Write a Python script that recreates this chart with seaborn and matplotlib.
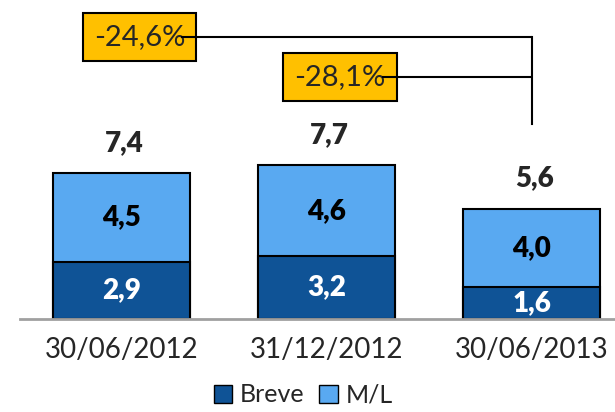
import matplotlib
matplotlib.use("Agg")
import matplotlib.pyplot as plt
import seaborn as sns
import pandas as pd
from matplotlib.patches import Patch
from matplotlib import font_manager

# values
dates = ["30/06/2012", "31/12/2012", "30/06/2013"]
breve = [2.9, 3.2, 1.6]
ml = [4.5, 4.6, 4.0]
totals = [7.4, 7.7, 5.6]
changes = ["-24,6%", "-28,1%"]

dark_blue = "#0F5396"
light_blue = "#59A9F1"
box_yellow = "#FFC000"


def fmt(v):
    return f"{v:.1f}".replace(".", ",")


sns.set_theme(style="white")
plt.rcParams["font.family"] = ["Lato", "DejaVu Sans"]
print(sorted({(f.name, f.weight) for f in font_manager.fontManager.ttflist
              if f.name in ("Lato", "Open Sans")}))

df = pd.DataFrame({"date": dates, "breve": breve, "ml": ml})
df["stack"] = df["breve"] + df["ml"]

fig = plt.figure(figsize=(6.15, 4.12), dpi=100)
ax = fig.add_axes([20 / 615, 93 / 412, 595 / 615, 319 / 412])

sns.barplot(data=df, x="date", y="stack", color=light_blue, width=0.67,
            edgecolor="black", linewidth=1.5, saturation=1, ax=ax, zorder=2)
sns.barplot(data=df, x="date", y="breve", color=dark_blue, width=0.67,
            edgecolor="black", linewidth=1.5, saturation=1, ax=ax, zorder=2)

ax.set_xlim(-0.495, 2.407)
ax.set_ylim(0, 16.19)
ax.set_xlabel("")
ax.set_ylabel("")
ax.set_yticks([])
ax.tick_params(axis="x", length=0, pad=13, labelsize=20)
for side in ["left", "right", "top"]:
    ax.spines[side].set_visible(False)
ax.spines["bottom"].set_color("#A0A0A0")
ax.spines["bottom"].set_linewidth(2)
ax.spines["bottom"].set_zorder(5)

# labels inside the segments and the totals on top
for i, row in df.iterrows():
    ax.text(i, row["breve"] / 2, fmt(row["breve"]), ha="center", va="center",
            color="white", fontsize=20, fontweight="heavy", zorder=4)
    ax.text(i, row["breve"] + row["ml"] / 2, fmt(row["ml"]), ha="center",
            va="center", color="black", fontsize=20, fontweight="heavy", zorder=4)
    ax.annotate(fmt(totals[i]), (i, row["stack"]), xytext=(2, 22),
                textcoords="offset points", ha="center", va="center",
                fontsize=20, fontweight="heavy")

# change boxes and bracket to the last date
box_x = [0.088, 1.066]
box_y = [14.3, 12.3]
bracket_bottom = 9.9
texts = []
for x, y, label in zip(box_x, box_y, changes):
    t = ax.text(x, y, label, ha="center", va="center", fontsize=21, zorder=6,
                bbox=dict(boxstyle="square,pad=0.38", facecolor=box_yellow,
                          edgecolor="black", linewidth=1.5))
    texts.append(t)

fig.canvas.draw()
inv = ax.transData.inverted()
last = len(dates) - 1
for t, y in zip(texts, box_y):
    bb = t.get_window_extent()
    x_start = inv.transform((bb.x1 - 4, 0))[0]
    ax.plot([x_start, last], [y, y], color="black", lw=1.5, zorder=7,
            solid_capstyle="butt")
ax.plot([last, last], [bracket_bottom, box_y[0]], color="black", lw=1.5,
        zorder=7, solid_capstyle="projecting")

handles = [Patch(facecolor=dark_blue, edgecolor="black", label="Breve"),
           Patch(facecolor=light_blue, edgecolor="black", label="M/L")]
fig.legend(handles=handles, loc="center", bbox_to_anchor=(0.493, 17 / 412),
           ncol=2, frameon=False, fontsize=18, handlelength=0.75,
           handleheight=0.75, handletextpad=0.3, columnspacing=0.6)

fig.savefig("out.png", dpi=100)
